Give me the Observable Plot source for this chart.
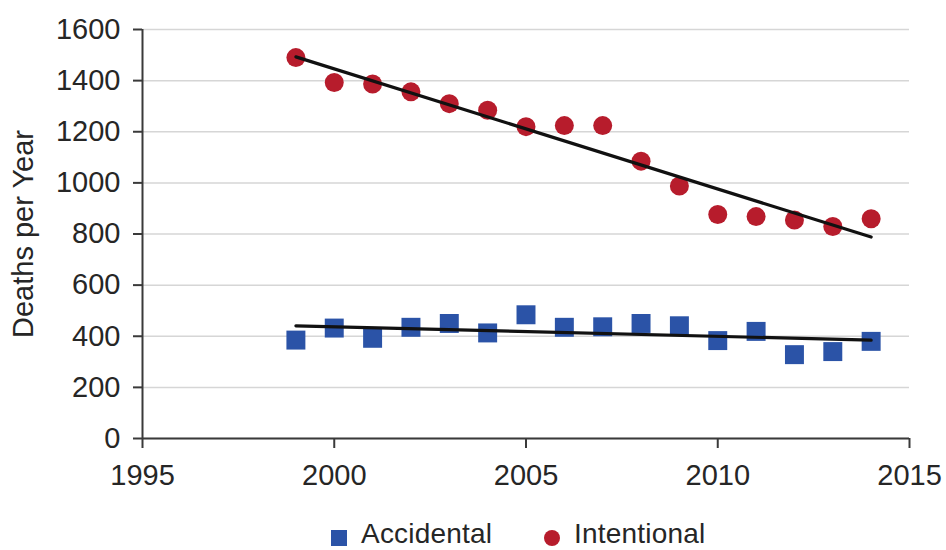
<!DOCTYPE html>
<html>
<head>
<meta charset="utf-8">
<script src="https://cdn.jsdelivr.net/npm/d3@7"></script>
<script src="https://cdn.jsdelivr.net/npm/@observablehq/plot@0.6"></script>
<style>
  body { margin: 0; background: #fff; font-family: "Liberation Sans", Arial, sans-serif; }
  #wrap { position: relative; width: 946px; height: 550px; }
  #legend { position: absolute; top: 514px; left: 0; width: 946px; height: 36px; font-size: 28px; color: #262626; }
  #legend .sw { position: absolute; width: 16px; height: 16px; top: 16px; }
  #legend .lb { position: absolute; top: 6px; line-height: 27px; white-space: nowrap; letter-spacing: 0.2px; }
</style>
</head>
<body>
<div id="wrap">
  <div id="chart"></div>
  <div id="legend"></div>
</div>
<script>
const years = [1999, 2000, 2001, 2002, 2003, 2004, 2005, 2006, 2007, 2008, 2009, 2010, 2011, 2012, 2013, 2014];
const accidental = [385, 432, 392, 435, 450, 413, 484, 435, 437, 450, 441, 383, 419, 328, 340, 380];
const intentional = [1490, 1393, 1387, 1356, 1310, 1284, 1220, 1224, 1224, 1085, 988, 876, 868, 855, 829, 860];
const xTicks = [1995, 2000, 2005, 2010, 2015];
const yTicks = [0, 200, 400, 600, 800, 1000, 1200, 1400, 1600];
const seriesNames = ["Accidental", "Intentional"];
const seriesColors = ["#2b53a7", "#b71c2c"];
const seriesSymbols = ["square", "circle"];
const yLabel = "Deaths per Year";

const rows = [];
years.forEach((yr, i) => {
  rows.push({ year: yr, deaths: accidental[i], series: seriesNames[0] });
  rows.push({ year: yr, deaths: intentional[i], series: seriesNames[1] });
});
const accRows = rows.filter(d => d.series === seriesNames[0]);
const intRows = rows.filter(d => d.series === seriesNames[1]);

const chart = Plot.plot({
  width: 946,
  height: 500,
  marginLeft: 142,
  marginRight: 37,
  marginTop: 29,
  marginBottom: 62,
  style: { fontFamily: '"Liberation Sans", Arial, sans-serif', fontSize: "29px", color: "#262626", background: "#fff" },
  x: { domain: [1995, 2015] },
  y: { domain: [0, 1600] },
  marks: [
    Plot.gridY(yTicks, { stroke: "#d6d6d6", strokeOpacity: 1, strokeWidth: 1.5 }),
    Plot.axisY(yTicks, { tickSize: 9, tickPadding: 13, stroke: "#3a3a3a", strokeWidth: 2, fill: "#262626", tickFormat: d => String(d), label: yLabel, labelAnchor: "center", labelOffset: 130, labelArrow: "none" }),
    Plot.axisX(xTicks, { tickSize: 10, tickPadding: 16, stroke: "#3a3a3a", strokeWidth: 2, fill: "#262626", tickFormat: d => String(d), label: null }),
    Plot.ruleX([xTicks[0]], { stroke: "#3a3a3a", strokeWidth: 2 }),
    Plot.ruleY([yTicks[0]], { stroke: "#3a3a3a", strokeWidth: 2 }),
    Plot.dot(accRows, { x: "year", y: "deaths", symbol: seriesSymbols[0], r: 10.7, fill: seriesColors[0] }),
    Plot.dot(intRows, { x: "year", y: "deaths", symbol: seriesSymbols[1], r: 9.5, fill: seriesColors[1] }),
    Plot.linearRegressionY(accRows, { x: "year", y: "deaths", ci: 0, stroke: "#111", strokeWidth: 3.2 }),
    Plot.linearRegressionY(intRows, { x: "year", y: "deaths", ci: 0, stroke: "#111", strokeWidth: 3.2 })
  ]
});
document.getElementById("chart").appendChild(chart);

const legend = document.getElementById("legend");
const legendPos = [{ sw: 331, lb: 361 }, { sw: 544, lb: 574 }];
seriesNames.forEach((name, i) => {
  const sw = document.createElement("div");
  sw.className = "sw";
  sw.style.left = legendPos[i].sw + "px";
  sw.style.background = seriesColors[i];
  if (seriesSymbols[i] === "circle") sw.style.borderRadius = "50%";
  legend.appendChild(sw);
  const lb = document.createElement("div");
  lb.className = "lb";
  lb.style.left = legendPos[i].lb + "px";
  lb.textContent = name;
  legend.appendChild(lb);
});
</script>
</body>
</html>
